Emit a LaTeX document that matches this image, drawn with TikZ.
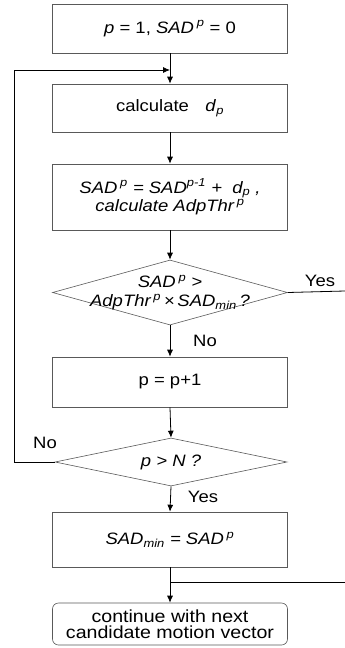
\documentclass[tikz,border=0pt]{standalone}
\usepackage{fontspec}
\setmainfont[FakeStretch=1.12]{Liberation Sans}
\usetikzlibrary{arrows.meta,shapes.geometric}
\tikzset{
  box/.style={draw=black!65, line width=0.6pt, rectangle, minimum width=235pt, inner sep=0pt, align=center},
  rbox/.style={box, rounded corners=6pt},
  dia/.style={draw=black!65, line width=0.6pt, diamond, inner sep=0pt},
  txt/.style={inner sep=0pt, align=center},
  conn/.style={line width=0.8pt, -{Latex[length=7pt,width=6pt]}},
  plain/.style={line width=0.8pt},
  lbl/.style={inner sep=0pt},
}
\begin{document}
\begin{tikzpicture}[x=1pt,y=1pt, font=\fontsize{16.5}{17.5}\selectfont]
\useasboundingbox (0,0) rectangle (345,-648);
\node[box, minimum height=49pt] (b1) at (170,-28.5) {\textit{p} = 1, \textit{SAD}\,\textsuperscript{\textit{p}} = 0};
\node[box, minimum height=48pt] (b2) at (170,-108) {calculate\quad\textit{d}\textsubscript{\textit{p}}};
\node[box, minimum height=66pt] (b3) at (170,-197) {\textit{SAD\,\textsuperscript{p} = SAD\textsuperscript{p-1} +\ \ d\textsubscript{p} ,}\\[1pt]\textit{calculate AdpThr\,\textsuperscript{p}}};
\node[dia, minimum width=235pt, minimum height=65pt] (d1) at (170,-292.5) {};
\node[txt] (d1t) at (170,-292.5) {\textit{SAD\,\textsuperscript{p} >}\\[2pt]\textit{AdpThr\,\textsuperscript{p}\,×\,SAD\textsubscript{min}\,?}};
\node[box, minimum height=50pt] (b4) at (170,-382) {p = p+1};
\node[dia, minimum width=232pt, minimum height=48pt] (d2) at (171,-462) {};
\node[txt] (d2t) at (171,-462) {\textit{p > N ?}};
\node[box, minimum height=55pt] (b5) at (170,-539.5) {\textit{SAD\textsubscript{min} = SAD\,\textsuperscript{p}}};
\node[rbox, minimum height=42pt, font=\fontsize{17.5}{16.5}\selectfont] (b6) at (170,-624) {continue with next\\candidate motion vector};

\coordinate (j1) at (170,-70);
\coordinate (lc) at (14,-462);
\coordinate (lt) at (14,-70);
\coordinate (yesend) at (345,-291);
\coordinate (ret) at (345,-582);
\coordinate (j2) at (170,-582);

\draw[conn] (b1.south) -- (b2.north);
\draw[conn] (b2.south) -- (b3.north);
\draw[conn] (b3.south) -- (d1.north);
\draw[conn] (d1.south) -- (b4.north);
\draw[conn] (b4.south) -- (d2.north);
\draw[conn] (d2.south) -- (b5.north);
\draw[conn] (b5.south) -- (b6.north);
\draw[conn] (d2.west) -- (lc) -- (lt) -- (j1);
\draw[plain] (d1.east) -- (yesend);
\draw[plain] (ret) -- (j2);

\node[lbl] (yes1) at (320,-281) {Yes};
\node[lbl] (no1) at (205,-341) {No};
\node[lbl] (no2) at (45,-443) {No};
\node[lbl] (yes2) at (203,-497) {Yes};
\end{tikzpicture}
\end{document}
